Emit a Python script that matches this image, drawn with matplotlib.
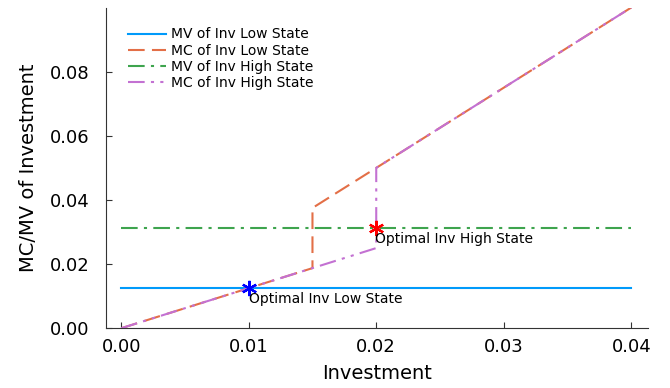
import matplotlib
matplotlib.use("Agg")
import matplotlib.pyplot as plt

# piecewise-linear curves, breakpoints only
inv_range = [0.0, 0.04]
mv_low = [0.0125, 0.0125]
mv_high = [0.03125, 0.03125]

mc_low_x = [0.0, 0.015, 0.015, 0.04]
mc_low_y = [0.0, 0.01875, 0.0375, 0.1]

mc_high_x = [0.0, 0.02, 0.02, 0.04]
mc_high_y = [0.0, 0.025, 0.05, 0.1]

opt_low = (0.01, 0.0125)
opt_high = (0.02, 0.03125)

xticks = [0.00, 0.01, 0.02, 0.03, 0.04]
yticks = [0.00, 0.02, 0.04, 0.06, 0.08]

plt.rcParams['font.family'] = ['DejaVu Sans']

fig = plt.figure(figsize=(6.7, 3.88), dpi=100)
ax = fig.add_axes([0.158, 0.154, 0.809, 0.825])

ax.plot(inv_range, mv_low, color='#009AFA', lw=1.5, label='MV of Inv Low State')
ax.plot(mc_low_x, mc_low_y, color='#E36F47', lw=1.5, dashes=(8, 3.5),
        label='MC of Inv Low State')
ax.plot(inv_range, mv_high, color='#3EA44E', lw=1.5, dashes=(8, 3, 1.5, 3),
        label='MV of Inv High State')
ax.plot(mc_high_x, mc_high_y, color='#C371D2', lw=1.5, dashes=(8, 3, 1.5, 3, 1.5, 3),
        label='MC of Inv High State')

ax.plot(*opt_low, marker=(6, 2, 0), ms=11, mew=1.6, color='blue', ls='none')
ax.plot(*opt_high, marker=(6, 2, 0), ms=11, mew=1.6, color='red', ls='none')
ax.text(opt_low[0], opt_low[1] - 0.0012, 'Optimal Inv Low State',
        fontsize=10, ha='left', va='top')
ax.text(opt_high[0] - 0.0001, opt_high[1] - 0.0012, 'Optimal Inv High State',
        fontsize=10, ha='left', va='top')

ax.set_xlim(-0.0012, 0.0413)
ax.set_ylim(0, 0.0998)
ax.set_xticks(xticks)
ax.set_yticks(yticks)
ax.set_xticklabels([f'{t:.2f}' for t in xticks])
ax.set_yticklabels([f'{t:.2f}' for t in yticks])
ax.tick_params(direction='in', labelsize=13, length=4, color='#333333')
ax.tick_params(axis='y', pad=12)
ax.tick_params(axis='x', pad=7)
for s in ('top', 'right'):
    ax.spines[s].set_visible(False)
for s in ('left', 'bottom'):
    ax.spines[s].set_color('#333333')

ax.set_xlabel('Investment', fontsize=14, labelpad=6)
ax.set_ylabel('MC/MV of Investment', fontsize=14, labelpad=8)

ax.legend(loc='upper left', bbox_to_anchor=(0.023, 0.97), frameon=False,
          fontsize=10, handlelength=2.7, labelspacing=0.15, borderaxespad=0.3,
          handletextpad=0.4)

fig.savefig('out.png', dpi=100)
